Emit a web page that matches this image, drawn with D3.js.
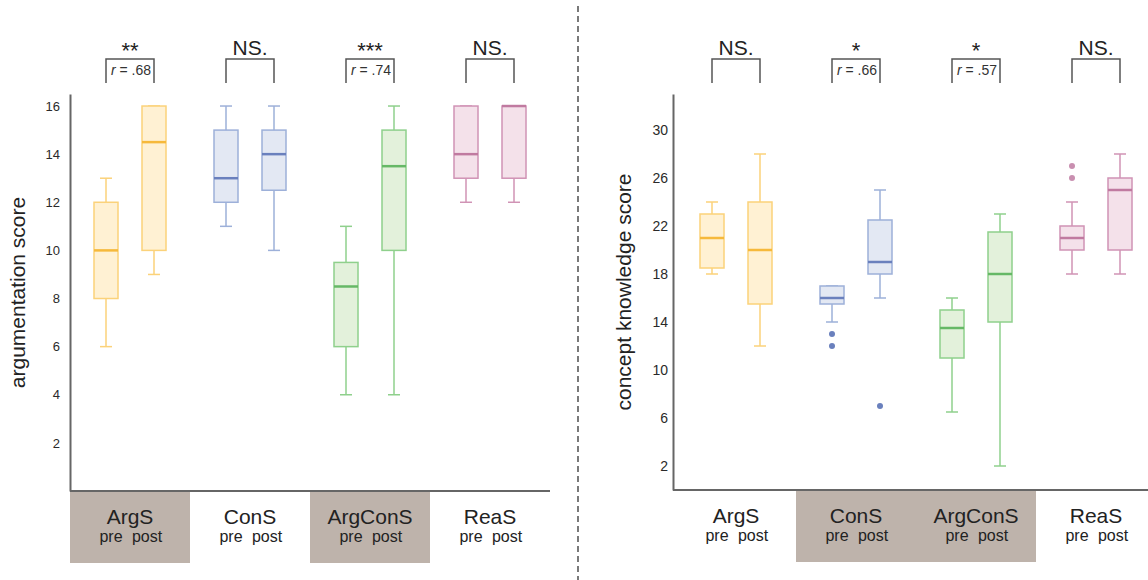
<!DOCTYPE html>
<html lang="en">
<head>
<meta charset="UTF-8">
<title>pre / post scores</title>
<script src="https://d3js.org/d3.v7.min.js"></script>
<style>
    body { margin: 0; background: white; font-family: "Liberation Sans", Arial, sans-serif; }
    svg { display: block; }
</style>
</head>
<body>
<svg id="chart"></svg>
<script>
    const W = 1148, H = 580;

    const groups = ["ArgS", "ConS", "ArgConS", "ReaS"];
    const phases = ["pre", "post"];

    // [min, q1, median, q3, max] per group, pre then post
    const argStats = [
        [6, 8, 10, 12, 13], [9, 10, 14.5, 16, 16],
        [11, 12, 13, 15, 16], [10, 12.5, 14, 15, 16],
        [4, 6, 8.5, 9.5, 11], [4, 10, 13.5, 15, 16],
        [12, 13, 14, 16, 16], [12, 13, 16, 16, 16]
    ];
    const argOutliers = [[], [], [], [], [], [], [], []];
    const argTicks = [2, 4, 6, 8, 10, 12, 14, 16];
    const argSig = ["**", "NS.", "***", "NS."];
    const argR = [".68", null, ".74", null];
    const argShaded = [true, false, true, false];

    const knowStats = [
        [18, 18.5, 21, 23, 24], [12, 15.5, 20, 24, 28],
        [14, 15.5, 16, 17, 17], [16, 18, 19, 22.5, 25],
        [6.5, 11, 13.5, 15, 16], [2, 14, 18, 21.5, 23],
        [18, 20, 21, 22, 24], [18, 20, 25, 26, 28]
    ];
    const knowOutliers = [[], [], [13, 12], [7], [], [], [27, 26], []];
    const knowTicks = [2, 6, 10, 14, 18, 22, 26, 30];
    const knowSig = ["NS.", "*", "*", "NS."];
    const knowR = [null, ".66", ".57", null];
    const knowShaded = [false, true, true, false];

    const palette = {
        ArgS:    { fill: "#fff1d3", stroke: "#fbd27a", median: "#f6b93b", dot: "#f6b93b" },
        ConS:    { fill: "#e3e8f3", stroke: "#9db0d9", median: "#6a80bd", dot: "#6a80bd" },
        ArgConS: { fill: "#e3f1db", stroke: "#8fd08c", median: "#66b866", dot: "#66b866" },
        ReaS:    { fill: "#f4e1ea", stroke: "#d093b5", median: "#c07aa0", dot: "#c98fb0" }
    };

    const svg = d3.select("#chart").attr("width", W).attr("height", H);

    // dashed divider between the panels
    svg.append("line")
        .attr("x1", 578).attr("x2", 578)
        .attr("y1", 6).attr("y2", H)
        .attr("stroke", "#333").attr("stroke-width", 1.3)
        .attr("stroke-dasharray", "6,4");

    function drawPanel(p) {
        const g = svg.append("g");

        const x = d3.scaleBand().domain(groups).range([p.catLeft, p.catLeft + 480]);
        const xp = d3.scalePoint().domain(phases).range([36, 84]);
        const y = d3.scaleLinear().domain(p.domain).range([p.bottom, 94]);

        // shaded category cells
        g.selectAll(".cell")
            .data(groups.filter((d, i) => p.shaded[i]))
            .enter().append("rect")
            .attr("x", d => x(d))
            .attr("y", p.bottom)
            .attr("width", x.bandwidth())
            .attr("height", 72)
            .attr("fill", "#beb3ab");

        // y axis
        const yAxis = g.append("g")
            .attr("transform", `translate(${p.axisX},0)`)
            .call(d3.axisLeft(y).tickValues(p.ticks).tickSize(0).tickSizeOuter(0).tickPadding(p.pad));
        yAxis.select(".domain").attr("stroke", "#666").attr("stroke-width", 2);
        yAxis.selectAll("text")
            .attr("fill", "#2a2a2a")
            .style("font-size", p.tickFont + "px")
            .style("font-family", "Liberation Sans, Arial, sans-serif");

        // bottom line
        g.append("line")
            .attr("x1", p.axisX).attr("x2", p.lineEnd)
            .attr("y1", p.bottom).attr("y2", p.bottom)
            .attr("stroke", "#666").attr("stroke-width", 2);

        g.append("text")
            .attr("transform", `translate(${p.labelX},${(p.bottom + 94) / 2}) rotate(-90)`)
            .attr("text-anchor", "middle")
            .attr("fill", "#222")
            .style("font-size", "21px")
            .text(p.title);

        // boxes
        const items = [];
        groups.forEach((grp, i) => phases.forEach((ph, j) => {
            items.push({ grp: grp, ph: ph, s: p.stats[i * 2 + j], out: p.outliers[i * 2 + j] });
        }));

        const bw = 24, cap = 12;
        const box = g.selectAll(".box").data(items).enter().append("g")
            .attr("transform", d => `translate(${x(d.grp) + xp(d.ph)},0)`);

        box.append("line")
            .attr("x1", 0).attr("x2", 0)
            .attr("y1", d => y(d.s[0])).attr("y2", d => y(d.s[4]))
            .attr("stroke", d => palette[d.grp].stroke).attr("stroke-width", 1.5);
        box.selectAll(".cap").data(d => [d.s[0], d.s[4]].map(v => ({ v: v, grp: d.grp })))
            .enter().append("line")
            .attr("x1", -cap / 2).attr("x2", cap / 2)
            .attr("y1", d => y(d.v)).attr("y2", d => y(d.v))
            .attr("stroke", d => palette[d.grp].stroke).attr("stroke-width", 1.5);
        box.append("rect")
            .attr("x", -bw / 2).attr("width", bw)
            .attr("y", d => y(d.s[3]))
            .attr("height", d => y(d.s[1]) - y(d.s[3]))
            .attr("fill", d => palette[d.grp].fill)
            .attr("stroke", d => palette[d.grp].stroke).attr("stroke-width", 1.5);
        box.append("line")
            .attr("x1", -bw / 2).attr("x2", bw / 2)
            .attr("y1", d => y(d.s[2])).attr("y2", d => y(d.s[2]))
            .attr("stroke", d => palette[d.grp].median).attr("stroke-width", 2.5);
        box.selectAll(".dot").data(d => d.out.map(v => ({ v: v, grp: d.grp })))
            .enter().append("circle")
            .attr("cx", 0).attr("cy", d => y(d.v)).attr("r", 3)
            .attr("fill", d => palette[d.grp].dot);

        // category labels
        const lab = g.selectAll(".lab").data(groups).enter().append("g")
            .attr("transform", d => `translate(${x(d)},0)`);
        lab.append("text")
            .attr("x", 60).attr("y", p.bottom + 33)
            .attr("text-anchor", "middle").attr("fill", "#222")
            .style("font-size", "21px")
            .text(d => d);
        lab.selectAll(".ph").data(phases).enter().append("text")
            .attr("x", (d, i) => i === 0 ? 41 : 77)
            .attr("y", p.bottom + 51)
            .attr("text-anchor", "middle").attr("fill", "#222")
            .style("font-size", "16px")
            .text(d => d);

        // significance brackets
        const sig = g.selectAll(".sig").data(groups).enter().append("g")
            .attr("transform", d => `translate(${x(d)},0)`);
        sig.append("path")
            .attr("d", `M${xp("pre")},83V59H${xp("post")}V83`)
            .attr("fill", "none").attr("stroke", "#555").attr("stroke-width", 1.5);
        sig.append("text")
            .attr("x", 60)
            .attr("y", (d, i) => p.sig[i] === "NS." ? 55 : 57.5)
            .attr("text-anchor", "middle").attr("fill", "#222")
            .style("font-size", (d, i) => p.sig[i] === "NS." ? "21px" : "22px")
            .text((d, i) => p.sig[i]);
        const rt = sig.filter((d, i) => p.r[i] !== null).append("text")
            .attr("x", 61).attr("y", 74.5)
            .attr("text-anchor", "middle").attr("fill", "#333")
            .style("font-size", "14px");
        rt.append("tspan").style("font-style", "italic").text("r");
        rt.append("tspan").text(d => " = " + p.r[groups.indexOf(d)]);
    }

    drawPanel({
        title: "argumentation score", axisX: 70, catLeft: 70, lineEnd: 550, bottom: 491,
        domain: [0, 16.5], ticks: argTicks, pad: 10, tickFont: 13, labelX: 25,
        stats: argStats, outliers: argOutliers, sig: argSig, r: argR, shaded: argShaded
    });
    drawPanel({
        title: "concept knowledge score", axisX: 673, catLeft: 676, lineEnd: W, bottom: 490,
        domain: [0, 33], ticks: knowTicks, pad: 5, tickFont: 14, labelX: 631,
        stats: knowStats, outliers: knowOutliers, sig: knowSig, r: knowR, shaded: knowShaded
    });
</script>
</body>
</html>
